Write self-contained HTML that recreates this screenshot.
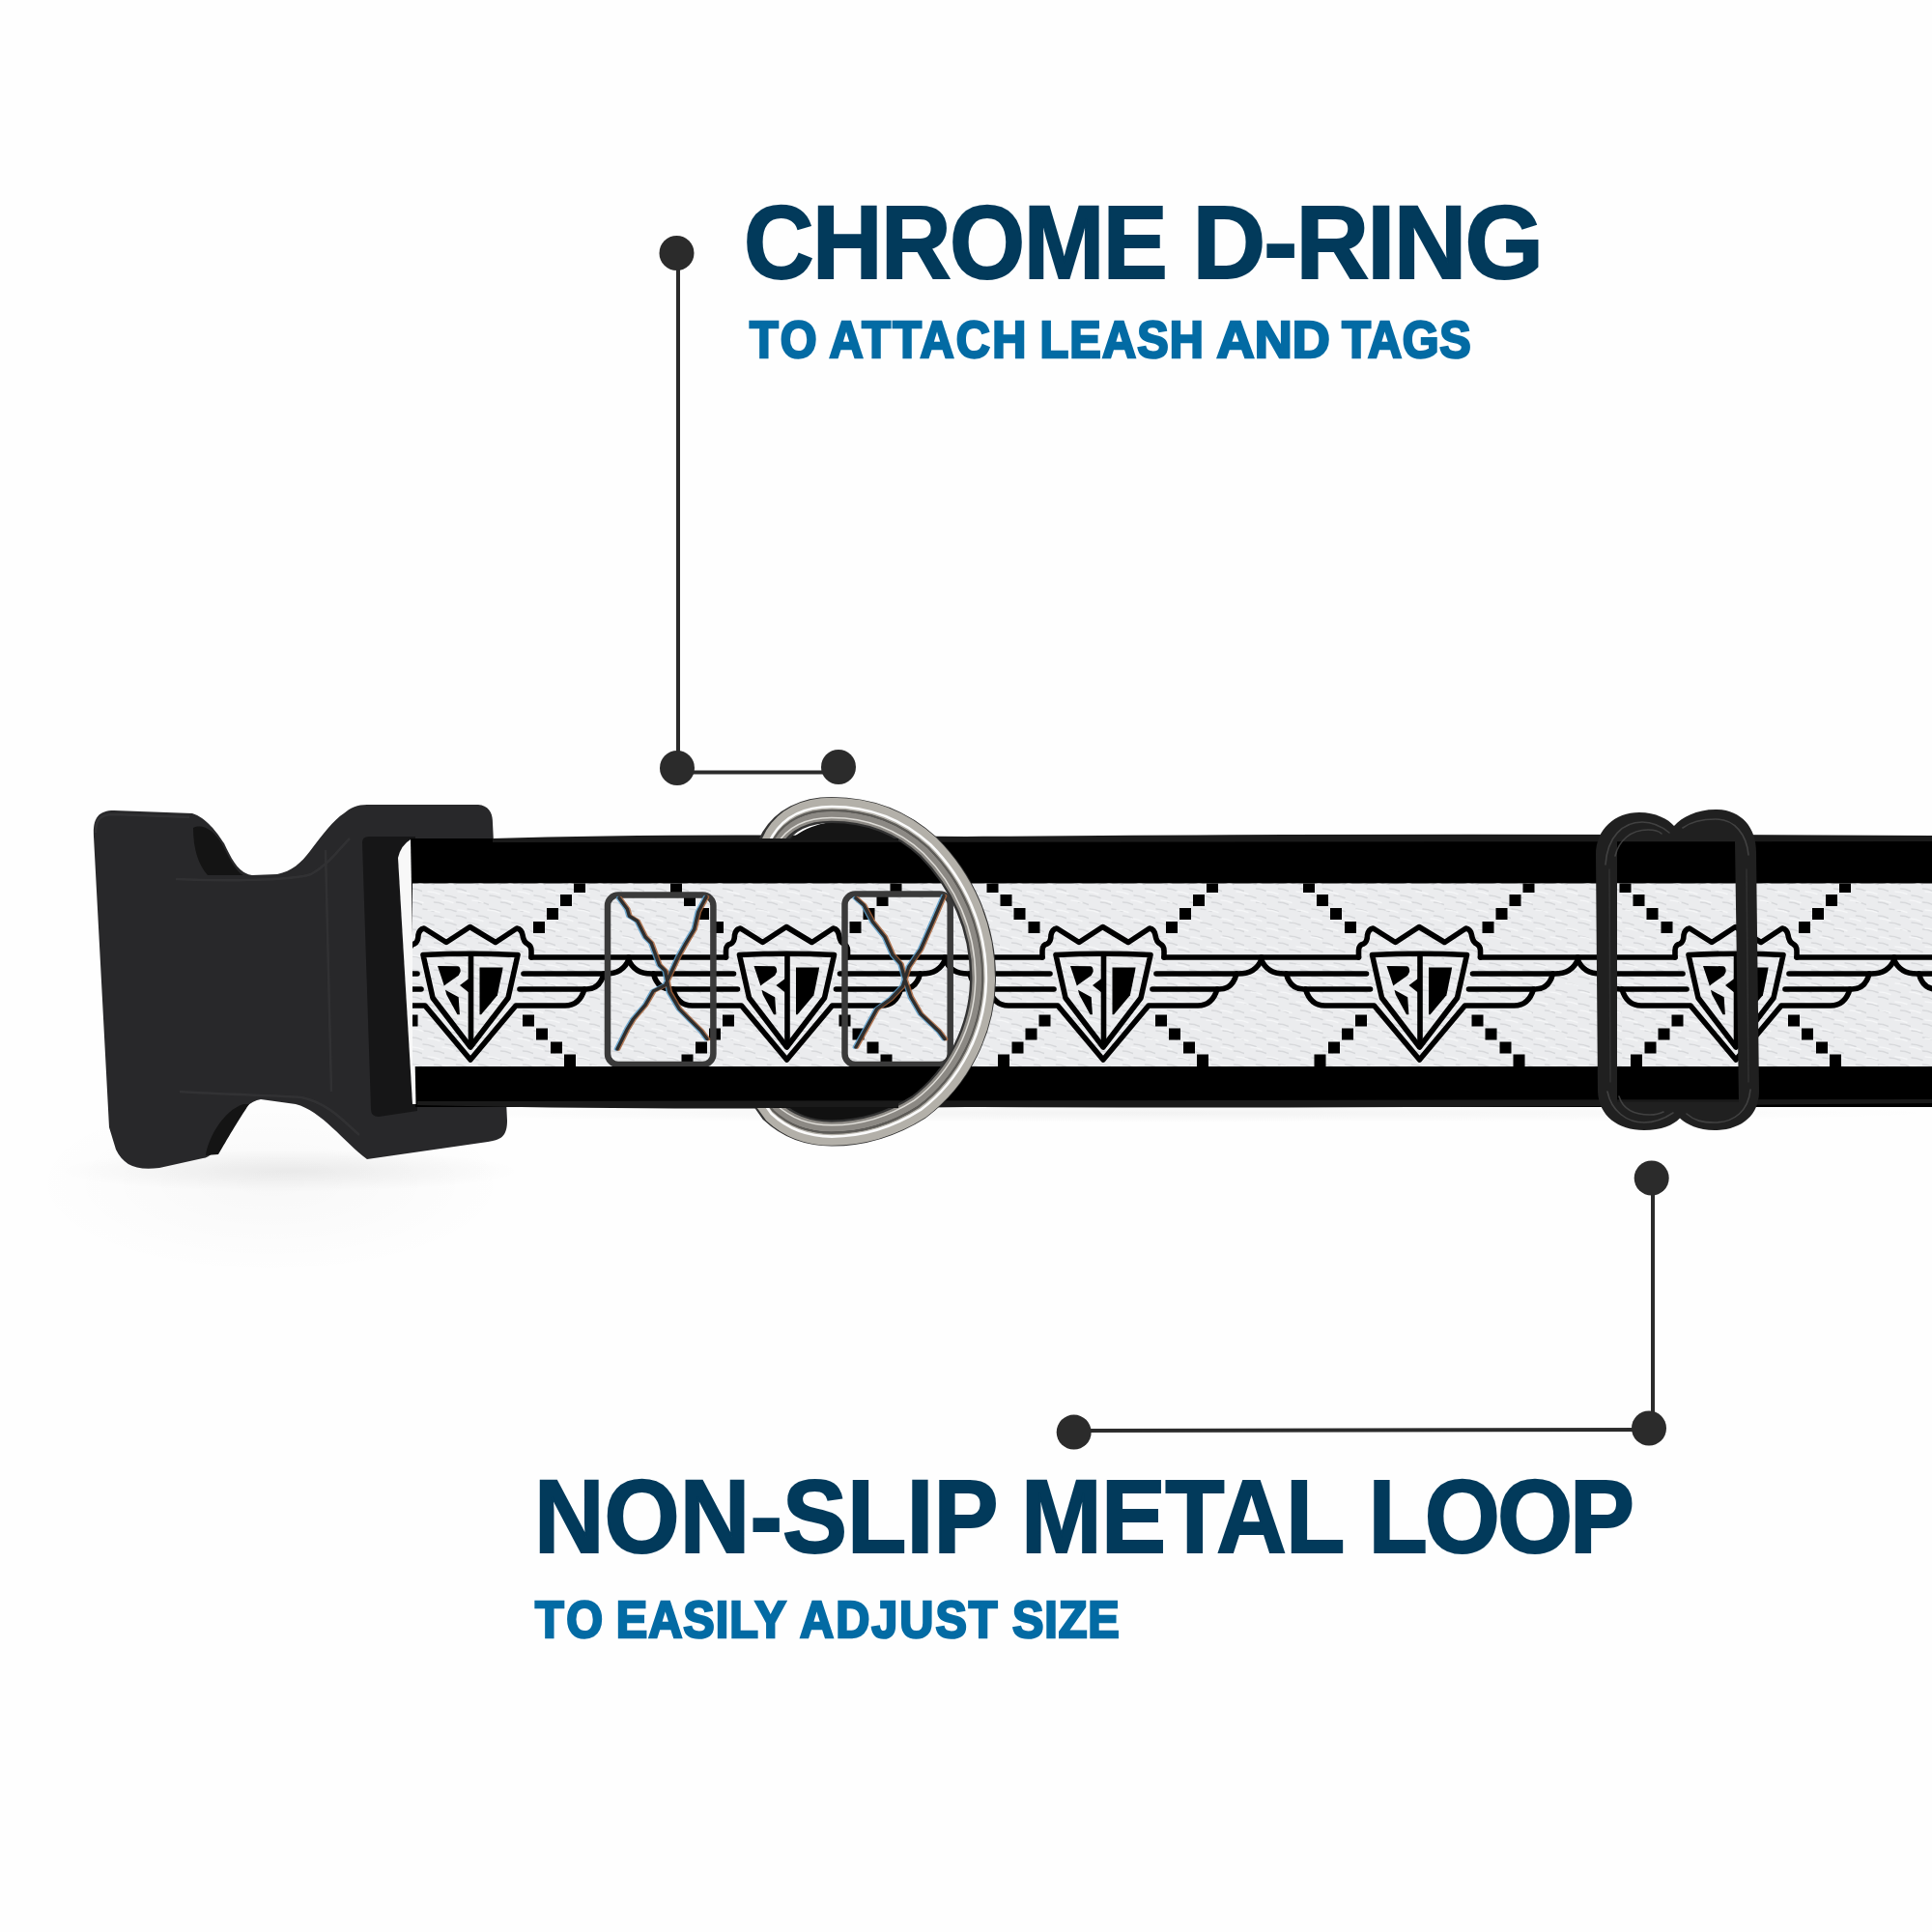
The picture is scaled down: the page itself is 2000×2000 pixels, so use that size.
<!DOCTYPE html>
<html><head><meta charset="utf-8">
<style>
html,body{margin:0;padding:0;background:#fff;width:2000px;height:2000px;overflow:hidden}
svg{display:block}
text{font-family:"Liberation Sans",sans-serif;font-weight:bold}
</style></head>
<body>
<svg width="2000" height="2000" viewBox="0 0 2000 2000">
<rect width="2000" height="2000" fill="#fefefe"/>

<defs>
  <pattern id="weave" width="23" height="14" patternUnits="userSpaceOnUse">
    <path d="M1,3 Q6,3 12,5.5 M12.5,10 Q17,10 23,12.5" fill="none" stroke="#c6c8cb" stroke-width="1.6" stroke-linecap="round"/>
  </pattern>
  <pattern id="weave2" width="31" height="19" patternUnits="userSpaceOnUse" patternTransform="translate(7,5)">
    <path d="M2,6 Q8,6 14,8.5 M17,15 Q22,15 28,17.5" fill="none" stroke="#f7f8f9" stroke-width="1.4" stroke-linecap="round"/>
  </pattern>
  <clipPath id="whiteClip"><rect x="427" y="914.5" width="1573" height="189.5"/></clipPath>
  <radialGradient id="shadowG" cx="0.5" cy="0.5" r="0.5">
    <stop offset="0" stop-color="#000" stop-opacity="0.18"/>
    <stop offset="1" stop-color="#000" stop-opacity="0"/>
  </radialGradient>
  <g id="sq">
    <rect x="-6" y="-6" width="12" height="12"/>
  </g>
  <g id="logo">
    <!-- pixel squares -->
    <g fill="#000">
      <rect x="-120.5" y="910" width="12" height="14"/>
      <rect x="-106.5" y="926" width="12" height="12"/>
      <rect x="-92.5" y="940" width="12" height="12"/>
      <rect x="-77.5" y="954" width="12" height="12"/>
      <rect x="107" y="910" width="12" height="14"/>
      <rect x="93" y="926" width="12" height="12"/>
      <rect x="79" y="940" width="12" height="12"/>
      <rect x="65" y="954" width="12" height="12"/>
      <rect x="-66.5" y="1050.5" width="12" height="12"/>
      <rect x="-80.5" y="1064.5" width="12" height="12"/>
      <rect x="-94.5" y="1078.5" width="12" height="12"/>
      <rect x="-109" y="1091.5" width="12" height="14"/>
      <rect x="54" y="1050.5" width="12" height="12"/>
      <rect x="68" y="1064.5" width="12" height="12"/>
      <rect x="83" y="1078.5" width="12" height="12"/>
      <rect x="97" y="1091.5" width="12" height="14"/>
    </g>
    <g fill="none" stroke="#000" stroke-width="5.6" stroke-linecap="round" stroke-linejoin="round">
      <!-- wings top line -->
      <path d="M-164,991 L-63,991 M63,991 L164,991"/>
      <!-- crown -->
      <path d="M-63,991 L-63,984 Q-63,978 -58,977 Q-54,975 -54,968 Q-53,962 -48,961 L-25,975.5 L-0.5,959.5 L26,975.5 L48,961 Q53,962 54,968 Q55,975 59,977 Q63,979 63,984 L63,991"/>
      <!-- feathers left -->
      <path d="M-164,993 Q-158,1008 -140,1008 L-55,1008"/>
      <path d="M-138,1008 Q-134,1024 -120,1024 L-51,1024"/>
      <path d="M-118,1024 Q-113,1041 -98,1041 L-47,1041 L0,1097 L47,1041 L98,1041 Q113,1041 118,1024"/>
      <!-- feathers right -->
      <path d="M164,993 Q158,1008 140,1008 L55,1008"/>
      <path d="M138,1008 Q134,1024 120,1024 L51,1024"/>
      <!-- shield -->
      <path d="M-49,988.5 Q0,986 49,988.5 L39,1033 L0,1084 L-39,1033 Z"/>
      <path d="M0.5,990 L0.5,1080"/>
    </g>
    <!-- letters -->
    <g fill="#000">
      <path d="M-34,999.9 L-13,1000.2 Q-10,1001 -10.4,1006.1 L-12.3,1009.8 L-24.7,1018.5 L-27.2,1020.4 L-30.3,1011 Z"/>
      <path d="M-26,1024.7 L-12.3,1032.2 L-11.1,1050.2 L-13.5,1050.2 L-24.7,1029.7 Z"/>
      <path d="M-11,1020 L-1,1012.5 L-1,1028 Z"/>
      <path d="M9.5,1001.4 L33.6,1001.4 L32.8,1006.2 L27.9,1030.3 L11.1,1050.3 L9.5,1050.3 Z"/>
    </g>
  </g>
</defs>

<!-- soft shadows -->
<ellipse cx="280" cy="1225" rx="250" ry="95" fill="url(#shadowG)" opacity="0.14"/>
<ellipse cx="300" cy="1212" rx="240" ry="22" fill="url(#shadowG)" opacity="0.35"/>
<ellipse cx="1200" cy="1152" rx="820" ry="10" fill="url(#shadowG)" opacity="0.25"/>

<!-- buckle -->
<path d="M97,866 C96,848 101,839 118,839 L199,842 C213,846 225,862 232,873 C240,890 247,904 261,906 L287,905 C302,902 312,893 321,881 C333,865 346,848 356,842 C363,836 370,833 380,833 L495,833 C505,834 510,840 510,852 L525,1160 C525,1176 519,1180 505,1182 L380,1200 C356,1182 333,1150 306,1143 L270,1138 C255,1140 240,1160 228,1180 C222,1192 218,1198 210,1199 L165,1209 C140,1212 128,1206 120,1190 L113,1167 Z" fill="#28282a"/>
<!-- buckle shading/ridges -->
<path d="M200,857 C210,852 222,860 230,874 C238,890 244,902 252,906 L215,906 C206,896 200,880 200,857 Z" fill="#141414"/>
<path d="M213,1196 C215,1180 230,1150 252,1143 L258,1143 C246,1160 232,1185 226,1195 Z" fill="#141414"/>

<g fill="none" stroke="#333335" stroke-width="2.5" opacity="0.9">
  <path d="M182,910 C230,912 300,912 322,905 C340,895 350,880 362,868"/>
  <path d="M337,880 L343,1130"/>
  <path d="M186,1130 C230,1133 290,1134 312,1136 C340,1142 355,1160 372,1175"/>
  <path d="M99,862 C99,848 104,843 118,843 L196,846"/>
</g>
<!-- slot -->
<path d="M375,872 Q375,866 382,866 L430,866 L432,1150 L392,1156 Q384,1156 384,1148 Z" fill="#161617"/>


<!-- strap -->
<path d="M425,868 L2000,868 L2000,1146 L430,1146 Z" fill="#000"/>
<path d="M412,888 Q415,875 425,869 L430.5,1143 L427,1143 Z" fill="#f8f8f8"/>
<path d="M510,868 Q700,862 1000,866 Q1400,862 2000,865 L2000,871 L510,872 Z" fill="#1a1a1a"/>
<path d="M432,1144 Q700,1150 1000,1146 Q1400,1148 2000,1142 L2000,1138 L432,1140 Z" fill="#1a1a1a"/>
<rect x="427" y="914.5" width="1573" height="189.5" fill="#ebecee"/>
<rect x="427" y="914.5" width="1573" height="189.5" fill="url(#weave)" opacity="0.55"/>
<rect x="427" y="914.5" width="1573" height="189.5" fill="url(#weave2)" opacity="0.8"/>

<!-- pattern -->
<g clip-path="url(#whiteClip)">
  <use href="#logo" transform="translate(487,0)"/>
  <use href="#logo" transform="translate(814.5,0)"/>
  <use href="#logo" transform="translate(1142,0)"/>
  <use href="#logo" transform="translate(1469.5,0)"/>
  <use href="#logo" transform="translate(1797,0)"/>
  <use href="#logo" transform="translate(2124.5,0)"/>
  <!-- ghost boxes -->
  <g fill="none" stroke="#3a3a3a" stroke-width="6.5" stroke-linejoin="round">
    <rect x="629" y="926.5" width="109.4" height="175.5" rx="11"/>
    <rect x="874.5" y="925.5" width="109.2" height="176.5" rx="11"/>
  </g>
  <g fill="none" stroke-linecap="round" stroke-linejoin="round">
    <path d="M641,929.7 L649.3,941 L651.4,948.3 L659.7,953.5 L668,970 L674.2,976.3 L682.5,999 L688.7,1005 L692.8,1027 L703.2,1044.6 L713.5,1055 L726,1067.4 L732,1075.6 M731,928.6 L722.8,944 L718.7,961.8 L709.4,977.3 L702,990.7 L688.7,1019.7 L676.3,1026 L668,1040.4 L655.5,1055 L649.3,1065.3 L639,1086 M885.9,929.7 L894.2,937 L903.5,954.5 L916,970 L924.2,988.7 L932.5,998 L936.6,1013.5 L942.8,1032 L953.2,1049.8 L971.8,1067.4 L978,1075.6 M977,927.6 L967.7,949.3 L953.2,982.5 L940.7,1001 L934.5,1020.8 L922,1034 L907.6,1044.6 L896.2,1065.3 L885.9,1084" stroke="#5b9cc8" stroke-width="3.6" transform="translate(-1.5,0)" opacity="0.85"/>
    <path d="M641,929.7 L649.3,941 L651.4,948.3 L659.7,953.5 L668,970 L674.2,976.3 L682.5,999 L688.7,1005 L692.8,1027 L703.2,1044.6 L713.5,1055 L726,1067.4 L732,1075.6 M731,928.6 L722.8,944 L718.7,961.8 L709.4,977.3 L702,990.7 L688.7,1019.7 L676.3,1026 L668,1040.4 L655.5,1055 L649.3,1065.3 L639,1086 M885.9,929.7 L894.2,937 L903.5,954.5 L916,970 L924.2,988.7 L932.5,998 L936.6,1013.5 L942.8,1032 L953.2,1049.8 L971.8,1067.4 L978,1075.6 M977,927.6 L967.7,949.3 L953.2,982.5 L940.7,1001 L934.5,1020.8 L922,1034 L907.6,1044.6 L896.2,1065.3 L885.9,1084" stroke="#a8643a" stroke-width="3.6" transform="translate(1.5,0)" opacity="0.85"/>
    <path d="M641,929.7 L649.3,941 L651.4,948.3 L659.7,953.5 L668,970 L674.2,976.3 L682.5,999 L688.7,1005 L692.8,1027 L703.2,1044.6 L713.5,1055 L726,1067.4 L732,1075.6 M731,928.6 L722.8,944 L718.7,961.8 L709.4,977.3 L702,990.7 L688.7,1019.7 L676.3,1026 L668,1040.4 L655.5,1055 L649.3,1065.3 L639,1086 M885.9,929.7 L894.2,937 L903.5,954.5 L916,970 L924.2,988.7 L932.5,998 L936.6,1013.5 L942.8,1032 L953.2,1049.8 L971.8,1067.4 L978,1075.6 M977,927.6 L967.7,949.3 L953.2,982.5 L940.7,1001 L934.5,1020.8 L922,1034 L907.6,1044.6 L896.2,1065.3 L885.9,1084" stroke="#2e2e2e" stroke-width="3.4"/>
  </g>
</g>

<!-- D-ring webbing loops -->
<path d="M818,870 C835,852 870,847 905,849 C930,852 950,860 962,870 Z" fill="#151515"/>
<path d="M800,1146 C820,1160 870,1166 920,1162 C950,1158 965,1150 970,1146 Z" fill="#111"/>
<!-- D-ring -->
<defs><path id="dr" d="M794,882 L801,868 C812,850 832,838.5 861,838.5 C905,838.5 936,854 961,877 C996,912 1017.5,960 1017.5,1012 C1017.5,1066 991,1116 951,1146 C921,1165 893,1173 861,1173 C835,1173 815,1164 800,1150 L790,1136"/></defs>
<clipPath id="ringClip"><path d="M700,780 L1100,780 L1100,1250 L700,1250 L700,1147 L930,1147 L930,868 L700,868 Z"/></clipPath>
<g fill="none" stroke-linecap="butt" clip-path="url(#ringClip)">
  <use href="#dr" stroke="#333" stroke-width="27"/>
  <use href="#dr" transform="translate(858,1005) scale(1.0394) translate(-858,-1005)" stroke="#b3b0a9" stroke-width="12"/>
  <use href="#dr" transform="translate(858,1005) scale(0.9624) translate(-858,-1005)" stroke="#8c8984" stroke-width="10.5"/>
  <use href="#dr" transform="translate(858,1005) scale(0.9982) translate(-858,-1005)" stroke="#5e5c58" stroke-width="2.2"/>
  <use href="#dr" transform="translate(858,1005) scale(1.0212) translate(-858,-1005)" stroke="#fafafa" stroke-width="2.6"/>
  <use href="#dr" transform="translate(858,1005) scale(0.9515) translate(-858,-1005)" stroke="#dedcd7" stroke-width="1.6"/>
</g>

<!-- loop / slider -->
<path fill-rule="evenodd" fill="#202020" d="M1652,885 C1652,858 1672,841 1697,841 C1714,841 1727,848 1733,855 C1741,846 1756,838 1776,838 C1802,838 1818,856 1818,882 L1821,1130 C1821,1155 1802,1170 1775,1170 C1758,1170 1746,1164 1739,1157.5 C1732,1165 1720,1170 1702,1170 C1675,1170 1655,1155 1654,1130 Z M1674,871 L1796,871 L1800,1141 L1674,1141 Z"/>
<g fill="none" stroke="#4a4a4a" stroke-width="1.6" opacity="0.8" stroke-linecap="round">
  <path d="M1662,895 C1664,866 1680,851 1700,851 C1712,851 1722,857 1728,862"/>
  <path d="M1672,886 C1676,870 1688,859 1706,859 C1714,859 1718,861 1720,863"/>
  <path d="M1742,857 C1750,851 1760,848 1776,848 C1796,848 1808,864 1810,885"/>
  <path d="M1664,1130 C1668,1150 1684,1162 1702,1162 C1716,1162 1726,1156 1732,1152"/>
  <path d="M1676,1135 C1680,1148 1692,1154 1708,1154 C1714,1154 1718,1153 1722,1151"/>
  <path d="M1746,1153 C1754,1160 1762,1162 1775,1162 C1795,1162 1810,1150 1812,1128"/>
  <path d="M1666,900 L1667,1120" opacity="0.5"/>
  <path d="M1808,900 L1810,1120" opacity="0.5"/>
</g>

<!-- callout top -->
<g fill="#2b2b2b" stroke="#2b2b2b">
  <line x1="702" y1="262" x2="702" y2="796" stroke-width="4"/>
  <line x1="702" y1="799.5" x2="868" y2="799.5" stroke-width="4"/>
  <circle cx="700.5" cy="262" r="18" stroke="none"/>
  <circle cx="701" cy="795" r="18" stroke="none"/>
  <circle cx="868" cy="794" r="18" stroke="none"/>
</g>
<!-- callout bottom -->
<g fill="#2b2b2b" stroke="#2b2b2b">
  <line x1="1711" y1="1220" x2="1711" y2="1478" stroke-width="4"/>
  <line x1="1112" y1="1481" x2="1707" y2="1480" stroke-width="4"/>
  <circle cx="1709.7" cy="1219.5" r="18" stroke="none"/>
  <circle cx="1707" cy="1478.5" r="18" stroke="none"/>
  <circle cx="1111.7" cy="1482.6" r="18" stroke="none"/>
</g>

<!-- texts -->
<text transform="translate(770.00,288) scale(0.93,1)" x="0" y="0" font-size="108" fill="#023a5b" stroke="#023a5b" stroke-width="2" textLength="471.83" lengthAdjust="spacing">CHROME</text>
<text transform="translate(1234.50,288) scale(0.97,1)" x="0" y="0" font-size="108" fill="#023a5b" stroke="#023a5b" stroke-width="2" textLength="374.74" lengthAdjust="spacing">D-RING</text>
<text transform="translate(776.00,369.5) scale(0.9,1)" x="0" y="0" font-size="54" fill="#036ba4" stroke="#036ba4" stroke-width="2.6" textLength="77.33" lengthAdjust="spacing">TO</text>
<text transform="translate(858.60,369.5) scale(0.9,1)" x="0" y="0" font-size="54" fill="#036ba4" stroke="#036ba4" stroke-width="2.6" textLength="226.33" lengthAdjust="spacing">ATTACH</text>
<text transform="translate(1076.50,369.5) scale(0.9,1)" x="0" y="0" font-size="54" fill="#036ba4" stroke="#036ba4" stroke-width="2.6" textLength="188.11" lengthAdjust="spacing">LEASH</text>
<text transform="translate(1259.60,369.5) scale(1.0,1)" x="0" y="0" font-size="54" fill="#036ba4" stroke="#036ba4" stroke-width="2.6" textLength="117.20" lengthAdjust="spacing">AND</text>
<text transform="translate(1389.20,369.5) scale(0.9,1)" x="0" y="0" font-size="54" fill="#036ba4" stroke="#036ba4" stroke-width="2.6" textLength="148.44" lengthAdjust="spacing">TAGS</text>
<text transform="translate(553.00,1607) scale(0.93,1)" x="0" y="0" font-size="108" fill="#023a5b" stroke="#023a5b" stroke-width="2" textLength="516.67" lengthAdjust="spacing">NON-SLIP</text>
<text transform="translate(1057.00,1607) scale(0.93,1)" x="0" y="0" font-size="108" fill="#023a5b" stroke="#023a5b" stroke-width="2" textLength="360.65" lengthAdjust="spacing">METAL</text>
<text transform="translate(1416.50,1607) scale(0.93,1)" x="0" y="0" font-size="108" fill="#023a5b" stroke="#023a5b" stroke-width="2" textLength="296.24" lengthAdjust="spacing">LOOP</text>
<text transform="translate(554.00,1694.5) scale(0.9,1)" x="0" y="0" font-size="54" fill="#036ba4" stroke="#036ba4" stroke-width="2.6" textLength="77.89" lengthAdjust="spacing">TO</text>
<text transform="translate(637.80,1694.5) scale(0.9,1)" x="0" y="0" font-size="54" fill="#036ba4" stroke="#036ba4" stroke-width="2.6" textLength="195.78" lengthAdjust="spacing">EASILY</text>
<text transform="translate(828.10,1694.5) scale(0.9,1)" x="0" y="0" font-size="54" fill="#036ba4" stroke="#036ba4" stroke-width="2.6" textLength="227.11" lengthAdjust="spacing">ADJUST</text>
<text transform="translate(1048.10,1694.5) scale(0.9,1)" x="0" y="0" font-size="54" fill="#036ba4" stroke="#036ba4" stroke-width="2.6" textLength="122.78" lengthAdjust="spacing">SIZE</text>

</svg>
</body></html>
